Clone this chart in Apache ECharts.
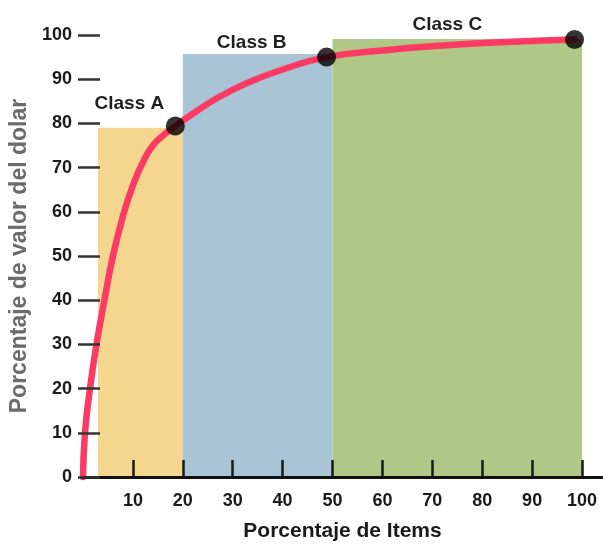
<!DOCTYPE html>
<html>
<head>
<meta charset="utf-8">
<script src="https://cdn.jsdelivr.net/npm/echarts@6/dist/echarts.min.js"></script>
<style>
html,body{margin:0;padding:0;background:#fff;}
#chart{width:603px;height:547px;}
</style>
</head>
<body>
<div id="chart"></div>
<script>
// ---- data ----
const classNames = ['Class A', 'Class B', 'Class C'];
const classStart = [3, 20, 50];
const classEnd = [20, 50, 100];
const classTop = [79, 95.7, 99.1];

const curveX = [0, 0.4, 1.4, 2.7, 4.3, 6, 8, 10, 12, 14, 16.3, 18.5, 22, 27, 33, 40, 48.8, 60, 73, 86, 98.5];
const curveY = [0, 10, 20, 30, 40, 50, 59, 66, 71.2, 75, 77.5, 79.4, 82.2, 85.8, 89.2, 92.2, 95, 96.5, 97.7, 98.5, 99];

const pointX = [18.5, 48.8, 98.5];
const pointY = [79.4, 95, 99];

const xTicks = [10, 20, 30, 40, 50, 60, 70, 80, 90, 100];
const yTicks = [0, 10, 20, 30, 40, 50, 60, 70, 80, 90, 100];

// ---- styles ----
const FONT = '"Liberation Sans", Arial, Helvetica, sans-serif';
const classColors = ['#f4d68e', '#a9c4d5', '#afc787'];
const labelOffsets = [[-11, 24], [-6, 11], [-10, 14]];

const chart = echarts.init(document.getElementById('chart'), null, {renderer: 'canvas'});

const classData = classNames.map((n, i) => [classStart[i], classEnd[i], classTop[i]]);
const curveData = curveX.map((x, i) => [x, curveY[i]]);
const pointData = pointX.map((x, i) => [x, pointY[i]]);

const option = {
  animation: false,
  backgroundColor: '#fff',
  grid: {left: 83, right: 1, top: 35, bottom: 70, containLabel: false},
  xAxis: {
    type: 'value',
    min: 0, max: 104, interval: 10,
    offset: 4,
    z: 10,
    name: 'Porcentaje de Items',
    nameLocation: 'middle',
    nameGap: 40,
    nameTextStyle: {fontFamily: FONT, fontWeight: 'bold', fontSize: 21, color: '#1a1a1a'},
    axisLine: {show: true, lineStyle: {color: '#111', width: 3}},
    axisTick: {
      show: true, inside: true, length: 17,
      lineStyle: {color: '#1a1a1a', width: 2.5},
      customValues: xTicks
    },
    axisLabel: {
      margin: 11,
      customValues: xTicks,
      fontFamily: FONT, fontWeight: 'bold', fontSize: 18, color: '#1a1a1a'
    },
    splitLine: {show: false}
  },
  yAxis: {
    type: 'value',
    min: 0, max: 100, interval: 10,
    offset: -17,
    z: 10,
    name: 'Porcentaje de valor del dolar',
    nameLocation: 'middle',
    nameGap: 67,
    nameTextStyle: {fontFamily: FONT, fontWeight: 'bold', fontSize: 23, color: '#6b6b6b'},
    axisLine: {show: false},
    axisTick: {show: true, inside: false, length: 22, lineStyle: {color: '#333', width: 2.5}, customValues: yTicks},
    axisLabel: {
      margin: 28,
      customValues: yTicks,
      fontFamily: FONT, fontWeight: 'bold', fontSize: 18, color: '#1a1a1a'
    },
    splitLine: {show: false}
  },
  series: [
    {
      type: 'custom',
      z: 1,
      data: classData,
      clip: false,
      renderItem: function (params, api) {
        const i = params.dataIndex;
        const p0 = api.coord([api.value(0), api.value(2)]);
        const p1 = api.coord([api.value(1), 0]);
        const cx = (p0[0] + p1[0]) / 2 + labelOffsets[i][0];
        return {
          type: 'group',
          children: [
            {
              type: 'rect',
              shape: {x: p0[0], y: p0[1], width: p1[0] - p0[0], height: p1[1] - p0[1]},
              style: {fill: classColors[i]}
            },
            {
              type: 'text',
              x: cx,
              y: p0[1] - labelOffsets[i][1],
              style: {
                text: classNames[i],
                fill: '#1f1f1f',
                font: 'bold 19px ' + FONT,
                align: 'center',
                verticalAlign: 'middle'
              }
            }
          ]
        };
      }
    },
    {
      type: 'line',
      z: 3,
      data: curveData,
      smooth: 0.5,
      showSymbol: false,
      clip: false,
      lineStyle: {color: '#fd3a64', width: 6.5, cap: 'round'}
    },
    {
      type: 'scatter',
      z: 4,
      data: pointData,
      symbol: 'circle',
      symbolSize: 19,
      clip: false,
      itemStyle: {color: '#000'}
    }
  ]
};
chart.setOption(option);
</script>
</body>
</html>
